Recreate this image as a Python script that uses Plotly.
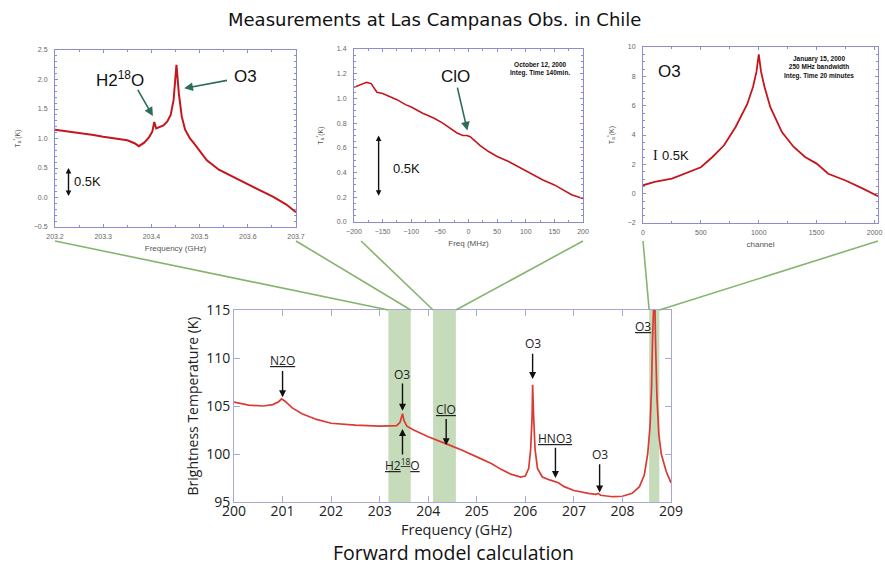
import plotly.graph_objects as go

W, H = 885, 566

# ---------------- data ----------------
# Panel 1: measured spectrum near 203.45 GHz
p1_freq = [203.2, 203.22, 203.25, 203.28, 203.3, 203.33, 203.35, 203.365, 203.374, 203.385, 203.395,
           203.402, 203.406, 203.41, 203.418, 203.425, 203.433, 203.44, 203.446, 203.452, 203.457,
           203.463, 203.47, 203.48, 203.488, 203.5, 203.515, 203.54, 203.57, 203.61, 203.653, 203.68, 203.7]
p1_temp = [1.15, 1.13, 1.1, 1.06, 1.03, 1.0, 0.97, 0.92, 0.87, 0.93, 1.02,
           1.12, 1.28, 1.17, 1.19, 1.22, 1.29, 1.4, 1.65, 2.25, 1.76,
           1.37, 1.15, 1.0, 0.92, 0.8, 0.63, 0.47, 0.35, 0.18, 0.01, -0.12, -0.25]

# Panel 2: ClO measurement
p2_freq = [-200, -195, -185, -178, -170, -165, -160, -150, -140, -125, -110, -100, -80, -60, -45,
           -30, -20, -10, -3, 3, 10, 20, 35, 50, 70, 90, 110, 130, 150, 165, 180, 200]
p2_temp = [1.09, 1.1, 1.12, 1.13, 1.12, 1.08, 1.05, 1.04, 1.02, 0.99, 0.95, 0.93, 0.88, 0.84, 0.8,
           0.75, 0.72, 0.7, 0.7, 0.69, 0.66, 0.62, 0.57, 0.53, 0.49, 0.44, 0.39, 0.34, 0.3, 0.26, 0.22, 0.19]

# Panel 3: O3 line, by channel
p3_chan = [0, 100, 250, 400, 500, 600, 700, 800, 900, 950, 980, 1000, 1020, 1050, 1100, 1200,
           1300, 1400, 1500, 1600, 1750, 1900, 2030]
p3_temp = [0.57, 0.8, 1.02, 1.48, 1.8, 2.5, 3.3, 4.55, 6.1, 7.27, 8.3, 9.5, 8.3, 7.27, 5.9, 4.2,
           3.2, 2.5, 2.05, 1.36, 0.9, 0.34, -0.18]

# Main: forward model calculation
m_freq = [200.0, 200.3, 200.6, 200.8, 200.92, 200.98, 201.05, 201.2, 201.4, 201.7, 202.0, 202.5,
          203.0, 203.35, 203.42, 203.47, 203.5, 203.56, 203.7, 204.0, 204.4, 204.7, 205.0, 205.3,
          205.5, 205.7, 205.9, 206.0, 206.07, 206.11, 206.14, 206.15, 206.17, 206.2, 206.25, 206.35,
          206.5, 206.62, 206.68, 206.8, 207.0, 207.3, 207.45, 207.5, 207.55, 207.8, 208.0, 208.2,
          208.35, 208.45, 208.52, 208.57, 208.6, 208.62, 208.64, 208.66, 208.68, 208.71, 208.75,
          208.8, 208.9, 209.0]
m_temp = [105.4, 105.1, 105.0, 105.15, 105.45, 105.75, 105.5, 104.8, 104.2, 103.6, 103.2, 103.0,
          102.9, 102.95, 103.3, 104.2, 103.5, 102.9, 102.5, 101.8, 101.0, 100.4, 99.7, 99.0,
          98.4, 97.9, 97.6, 97.7, 98.5, 100.5, 104.0, 107.2, 104.0, 100.5, 98.5, 97.6,
          97.3, 97.1, 97.0, 96.6, 96.2, 95.9, 95.8, 95.9, 95.7, 95.55, 95.6, 95.9,
          96.6, 97.8, 100.0, 103.0, 107.0, 112.0, 118.0, 118.0, 112.0, 106.0, 102.0,
          100.0, 98.2, 97.0]

# Green bands (GHz) showing where each measurement lies
band_lo = [203.18, 204.10, 208.55]
band_hi = [203.64, 204.57, 208.76]

# Main labels: (text, x, y)
m_labels = [("<u>N2O</u>", 201.0, 109.7), ("O3", 203.45, 108.3), ("<u>ClO</u>", 204.37, 104.6),
            ("<u>H2<sup>18</sup>O</u>", 203.47, 98.9), ("O3", 206.15, 111.5),
            ("<u>HNO3</u>", 206.62, 101.6), ("O3", 207.53, 99.9), ("<u>O3</u>", 208.42, 113.3)]
# Main arrows: (x, tail y, tip y)
m_arrows = [(201.0, 108.8, 105.9), (203.47, 107.5, 104.5), (204.37, 103.8, 100.9),
            (203.47, 99.8, 102.6), (206.15, 110.6, 107.8), (206.62, 100.8, 97.5),
            (207.53, 99.1, 96.0)]

# ---------------- layout helpers ----------------
def px_x(p):
    return p / W

def px_y(p):
    return 1 - p / H

dom = {
    1: ([px_x(55), px_x(296)], [px_y(227), px_y(50)]),
    2: ([px_x(354), px_x(583)], [px_y(222), px_y(49)]),
    3: ([px_x(643), px_x(878)], [px_y(223), px_y(47)]),
    4: ([px_x(234), px_x(671)], [px_y(502), px_y(310)]),
}

fig = go.Figure()

meas_red = "#c4161c"
fig.add_trace(go.Scatter(x=p1_freq, y=p1_temp, mode="lines", line=dict(color=meas_red, width=2),
                         xaxis="x", yaxis="y", showlegend=False, hoverinfo="skip"))
fig.add_trace(go.Scatter(x=p2_freq, y=p2_temp, mode="lines", line=dict(color=meas_red, width=1.6),
                         xaxis="x2", yaxis="y2", showlegend=False, hoverinfo="skip"))
fig.add_trace(go.Scatter(x=p3_chan, y=p3_temp, mode="lines", line=dict(color=meas_red, width=1.8),
                         xaxis="x3", yaxis="y3", showlegend=False, hoverinfo="skip"))
fig.add_trace(go.Scatter(x=m_freq, y=m_temp, mode="lines", line=dict(color="#db3a34", width=1.7),
                         xaxis="x4", yaxis="y4", showlegend=False, hoverinfo="skip"))

small_font = dict(family="Liberation Sans", size=7, color="#666")
frame = "#8c8cd0"

def small_axes(xr, dtx, yr, dty, xtitle, ytitle, fmt_x, fmt_y, n):
    xd, yd = dom[n]
    sfx = "" if n == 1 else str(n)
    fig.update_layout(**{
        "xaxis" + sfx: dict(domain=xd, range=xr, dtick=dtx, tick0=xr[0], tickformat=fmt_x, automargin=False,
                            showgrid=False, zeroline=False, showline=True, linecolor=frame, linewidth=1,
                            mirror="allticks", ticks="inside", ticklen=3, tickcolor=frame,
                            minor=dict(ticks="inside", ticklen=2, tickcolor=frame, nticks=3),
                            tickfont=small_font, anchor="y" + sfx, ticklabelstandoff=3,
                            title=dict(text=xtitle, font=dict(family="Liberation Sans", size=8, color="#555"),
                                       standoff=5)),
        "yaxis" + sfx: dict(domain=yd, range=yr, dtick=dty, tickformat=fmt_y, automargin=False,
                            showgrid=False, zeroline=False, showline=True, linecolor=frame, linewidth=1,
                            mirror="allticks", ticks="inside", ticklen=3, tickcolor=frame,
                            minor=dict(ticks="inside", ticklen=2, tickcolor=frame, nticks=5),
                            tickfont=small_font, anchor="x" + sfx, ticklabelstandoff=5,
                            title=dict(text=ytitle, font=dict(family="Liberation Sans", size=7, color="#555"),
                                       standoff=12)),
    })

ylab = "T<sub>a</sub><sup>*</sup>(K)"
small_axes([203.2, 203.7], 0.1, [-0.5, 2.5], 0.5, "Frequency (GHz)", ylab, ".1f", ".1f", 1)
small_axes([-200, 200], 50, [0, 1.4], 0.2, "Freq (MHz)", ylab, "d", ".1f", 2)
small_axes([0, 2030], 500, [-2, 10], 2, "channel", ylab, "d", "d", 3)

main_frame = "#a8a8d8"
main_font = dict(family="Open Sans", size=14, color="#222")
xd, yd = dom[4]
fig.update_layout(
    xaxis4=dict(domain=xd, range=[200, 209], dtick=1, showgrid=False, zeroline=False, showline=True,
                linecolor=main_frame, linewidth=1, mirror="ticks", ticks="inside", ticklen=6, automargin=False,
                tickcolor=main_frame, tickfont=main_font, anchor="y4", ticklabelstandoff=-4),
    yaxis4=dict(domain=yd, range=[95, 115], dtick=5, showgrid=False, zeroline=False, showline=True,
                linecolor=main_frame, linewidth=1, mirror="ticks", ticks="inside", ticklen=6, automargin=False,
                tickcolor=main_frame, tickfont=main_font, anchor="x4",
                title=dict(text="Brightness Temperature (K)", font=dict(family="Open Sans", size=14, color="#222"),
                           standoff=4)),
)

shapes = []
# green bands
for lo, hi in zip(band_lo, band_hi):
    shapes.append(dict(type="rect", xref="x4", yref="y4 domain", x0=lo, x1=hi, y0=0, y1=1,
                       fillcolor="rgba(150,190,130,0.55)", line=dict(width=0), layer="below"))

# connecting lines from panels to the bands
def band_px(f):
    d = dom[4][0]
    return d[0] + (f - 200) / 9 * (d[1] - d[0])

top_y = px_y(241)
bot_y = dom[4][1][1]
conn = [(dom[1][0][0], band_lo[0]), (dom[1][0][1], band_hi[0]),
        (dom[2][0][0] + 0.008, band_lo[1]), (dom[2][0][1], band_hi[1]),
        (dom[3][0][0], band_lo[2]), (dom[3][0][1], band_hi[2])]
for xt, fb in conn:
    shapes.append(dict(type="line", xref="paper", yref="paper", x0=xt, y0=top_y, x1=band_px(fb), y1=bot_y,
                       line=dict(color="#86b46e", width=1.6)))

ann = []
# title texts
ann.append(dict(text="Measurements at Las Campanas Obs. in Chile", xref="paper", yref="paper",
                x=px_x(434), y=px_y(19), xanchor="center", yanchor="middle", showarrow=False,
                font=dict(family="DejaVu Sans", size=18, color="#111")))
ann.append(dict(text="Forward model calculation", xref="paper", yref="paper",
                x=px_x(453), y=px_y(552), xanchor="center", yanchor="middle", showarrow=False,
                font=dict(family="Open Sans", size=19.5, color="#111")))
ann.append(dict(text="Frequency (GHz)", xref="paper", yref="paper",
                x=px_x(456), y=px_y(529), xanchor="center", yanchor="middle", showarrow=False,
                font=dict(family="Open Sans", size=14.5, color="#222")))

# main labels and arrows
for t, x, y in m_labels:
    ann.append(dict(text=t, x=x, y=y, xref="x4", yref="y4", showarrow=False,
                    font=dict(family="Open Sans", size=12, color="#222")))
for x, ty, hy in m_arrows:
    ann.append(dict(text="", x=x, y=hy, ax=x, ay=ty, xref="x4", yref="y4", axref="x4", ayref="y4",
                    showarrow=True, arrowhead=2, arrowsize=1, arrowwidth=1.4, arrowcolor="#111"))

big = dict(family="Liberation Sans", size=17, color="#111")
teal = "#2f6b5c"
# panel 1
ann.append(dict(text="H2<sup>18</sup>O", x=203.335, y=2.0, xref="x", yref="y", showarrow=False, font=big))
ann.append(dict(text="O3", x=203.595, y=2.05, xref="x", yref="y", showarrow=False, font=big))
ann.append(dict(text="", x=203.403, y=1.38, ax=203.37, ay=1.85, xref="x", yref="y", axref="x", ayref="y",
                showarrow=True, arrowhead=2, arrowsize=1.1, arrowwidth=1.6, arrowcolor=teal))
ann.append(dict(text="", x=203.468, y=1.85, ax=203.56, ay=1.99, xref="x", yref="y", axref="x", ayref="y",
                showarrow=True, arrowhead=2, arrowsize=1.1, arrowwidth=1.6, arrowcolor=teal))
ann.append(dict(text="", x=203.228, y=0.5, ax=203.228, ay=0.0, xref="x", yref="y", axref="x", ayref="y",
                showarrow=True, arrowhead=2, arrowside="end+start", arrowsize=0.8, arrowwidth=1.4,
                arrowcolor="#111"))
ann.append(dict(text="0.5K", x=203.235, y=0.27, xref="x", yref="y", xanchor="left", showarrow=False,
                font=dict(family="Liberation Sans", size=13, color="#111")))

# panel 2
ann.append(dict(text="ClO", x=-22, y=1.18, xref="x2", yref="y2", showarrow=False, font=big))
ann.append(dict(text="", x=-2, y=0.74, ax=-20, ay=1.1, xref="x2", yref="y2", axref="x2", ayref="y2",
                showarrow=True, arrowhead=2, arrowsize=1.1, arrowwidth=1.6, arrowcolor=teal))
ann.append(dict(text="", x=-157, y=0.7, ax=-157, ay=0.2, xref="x2", yref="y2", axref="x2", ayref="y2",
                showarrow=True, arrowhead=2, arrowside="end+start", arrowsize=0.8, arrowwidth=1.4,
                arrowcolor="#111"))
ann.append(dict(text="0.5K", x=-135, y=0.43, xref="x2", yref="y2", xanchor="left", showarrow=False,
                font=dict(family="Liberation Sans", size=13, color="#111")))
ann.append(dict(text="<b>October 12, 2000<br>Integ. Time 140min.</b>", x=125, y=1.24, xref="x2", yref="y2",
                showarrow=False, align="center", font=dict(family="Liberation Sans", size=6.5, color="#111")))

# panel 3
ann.append(dict(text="O3", x=230, y=8.3, xref="x3", yref="y3", showarrow=False, font=big))
ann.append(dict(text="I", x=110, y=2.6, xref="x3", yref="y3", showarrow=False,
                font=dict(family="Liberation Serif", size=14, color="#111")))
ann.append(dict(text="0.5K", x=145, y=2.6, xref="x3", yref="y3", xanchor="left", showarrow=False,
                font=dict(family="Liberation Sans", size=13, color="#111")))
ann.append(dict(text="<b>January 15, 2000<br>250 MHz bandwidth<br>Integ. Time 20 minutes</b>", x=1520, y=8.6,
                xref="x3", yref="y3", showarrow=False, align="center",
                font=dict(family="Liberation Sans", size=6.5, color="#111")))

fig.update_layout(width=W, height=H, margin=dict(l=0, r=0, t=0, b=0, autoexpand=False), plot_bgcolor="white",
                  paper_bgcolor="white", shapes=shapes, annotations=ann, showlegend=False)

fig.write_html("out.html", config={"displayModeBar": False},
               post_script="document.body.style.margin='0';")
